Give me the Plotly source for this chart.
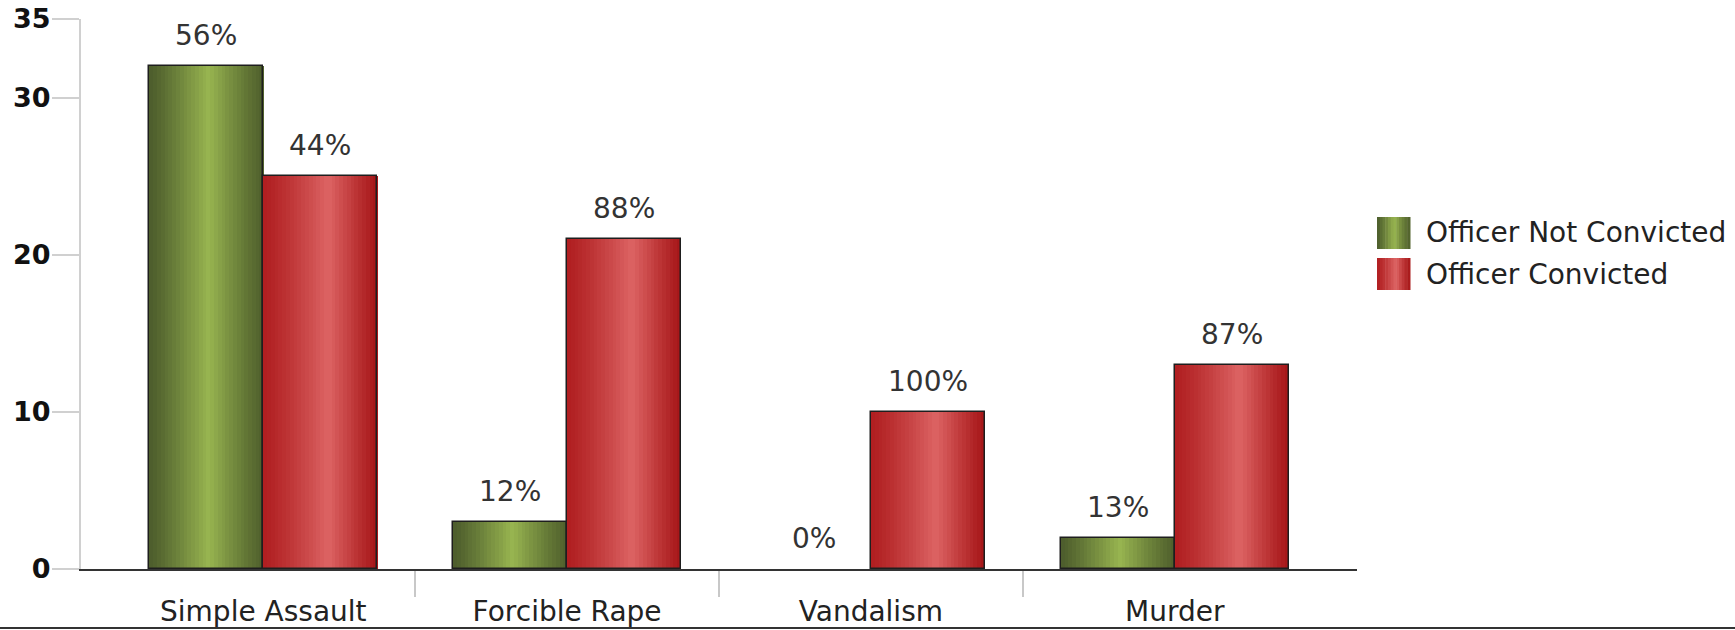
import plotly.graph_objects as go

categories = ["Simple Assault", "Forcible Rape", "Vandalism", "Murder"]
not_convicted = [32, 3, 0, 2]
convicted = [25, 21, 10, 13]
series_names = ["Officer Not Convicted", "Officer Convicted"]
y_ticks = [0, 10, 20, 30, 35]

W, H = 1735, 630
ML, MR, MT, MB = 81, 378, 19, 61
PW, PH = W - ML - MR, H - MT - MB
FONT = "DejaVu Sans"

green = dict(l=(76, 92, 44), c=(152, 181, 80), r=(80, 96, 44), p=0.52)
red = dict(l=(176, 30, 32), c=(221, 100, 100), r=(166, 22, 24), p=0.57)


def grad_color(g, t):
    p = g["p"]
    f = t / p if t < p else (1 - t) / (1 - p)
    f = max(0.0, min(1.0, f)) ** 1.15
    dark = [g["l"][i] + (g["r"][i] - g["l"][i]) * t for i in range(3)]
    col = [dark[i] + (g["c"][i] - dark[i]) * f for i in range(3)]
    return "rgb(%d,%d,%d)" % tuple(round(v) for v in col)


x_idx = list(range(len(categories)))
totals = [a + b for a, b in zip(not_convicted, convicted)]
bar_w = 0.375
N = 30

fig = go.Figure()
annotations = []
shapes = []

for s, (vals, g, off0) in enumerate([(not_convicted, green, -bar_w), (convicted, red, 0.0)]):
    sw = bar_w / N
    for k in range(N):
        t = (k + 0.5) / N
        fig.add_trace(go.Bar(
            x=x_idx, y=vals, offset=off0 + k * sw, width=sw * 1.08,
            marker=dict(color=grad_color(g, t), line=dict(width=0)),
            hoverinfo="skip", showlegend=False))
    fig.add_trace(go.Bar(
        x=x_idx, y=vals, offset=off0, width=bar_w, name=series_names[s],
        marker=dict(color="rgba(0,0,0,0)",
                    line=dict(color="#1e1e1e", width=[1.5 if v > 0 else 0 for v in vals])),
        showlegend=False))
    for i, v in enumerate(vals):
        pct = round(v / totals[i] * 100)
        annotations.append(dict(
            x=i + off0 + bar_w / 2, y=v, xref="x", yref="y", text=f"{pct}%",
            showarrow=False, yanchor="bottom", yshift=12,
            font=dict(family=FONT, size=28, color="#333333")))


def px2x(px):
    return (px - ML) / PW


def px2y(py):
    return (H - MB - py) / PH


# custom legend with gradient swatches
for s, g in enumerate([green, red]):
    top = 217 + s * 41
    x0, x1 = 1377, 1410
    M = 12
    for k in range(M):
        t = (k + 0.5) / M
        shapes.append(dict(
            type="rect", xref="paper", yref="paper",
            x0=px2x(x0 + (x1 - x0) * k / M), x1=px2x(x0 + (x1 - x0) * (k + 1) / M + 0.5),
            y0=px2y(top + 32), y1=px2y(top),
            fillcolor=grad_color(g, t), line=dict(width=0)))
    annotations.append(dict(
        x=px2x(1424), y=px2y(top + 16), xref="paper", yref="paper",
        text=series_names[s], showarrow=False, xanchor="left", yanchor="middle",
        font=dict(family=FONT, size=28, color="#222222")))

# page bottom rule
shapes.append(dict(type="line", xref="paper", yref="paper",
                   x0=px2x(0), x1=px2x(W), y0=px2y(628), y1=px2y(628),
                   line=dict(color="#333333", width=2)))

fig.update_layout(
    width=W, height=H,
    margin=dict(l=ML, r=MR, t=MT, b=MB, autoexpand=False),
    paper_bgcolor="white", plot_bgcolor="white",
    barmode="overlay", bargap=0,
    showlegend=False,
    annotations=annotations, shapes=shapes,
    font=dict(family=FONT),
    xaxis=dict(
        range=[-0.6, 3.6], tickmode="array", tickvals=x_idx, ticktext=categories,
        ticks="", showgrid=False, zeroline=False, automargin=False,
        showline=True, linecolor="#333333", linewidth=2,
        tickfont=dict(family=FONT, size=28, color="#222222"),
        ticklabelstandoff=16,
        minor=dict(tickmode="array", tickvals=[0.5, 1.5, 2.5], ticks="outside",
                   ticklen=26, tickwidth=1.5, tickcolor="#c8c8c8", showgrid=False),
    ),
    yaxis=dict(
        range=[0, 35], tickmode="array", tickvals=y_ticks, automargin=False,
        ticks="outside", ticklen=27, tickwidth=2, tickcolor="#d0d0d0",
        showline=True, linecolor="#d0d0d0", linewidth=2,
        showgrid=False, zeroline=False, ticklabelstandoff=-4,
        tickfont=dict(family=FONT, size=27, color="#111111", weight="bold"),
    ),
)

fig.write_html(
    "out.html",
    config={"displayModeBar": False},
    post_script="document.body.style.margin='0';document.body.style.overflow='hidden';",
)
